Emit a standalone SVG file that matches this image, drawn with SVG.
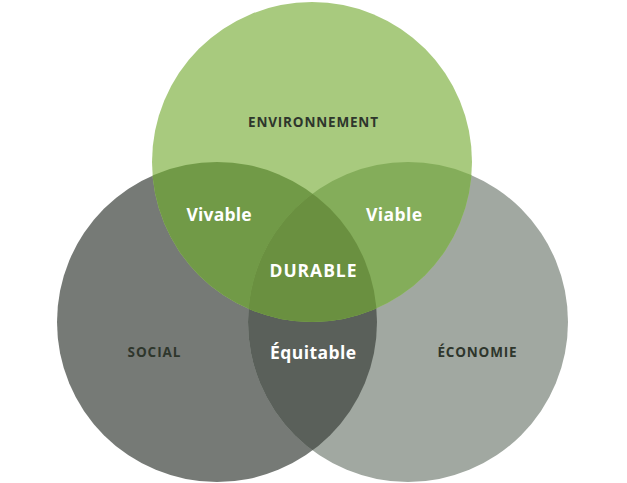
<svg xmlns="http://www.w3.org/2000/svg" width="627" height="483" viewBox="0 0 627 483">
<style>
.lbl{font-family:"Open Sans","DejaVu Sans",sans-serif;font-weight:700;text-anchor:middle}
.dark{fill:#2e362c;font-size:13.5px}
.light{fill:#ffffff;font-size:17.5px}
</style>
<defs>
<clipPath id="cEnv"><circle cx="312" cy="162" r="160"/></clipPath>
<clipPath id="cSoc"><circle cx="217" cy="322" r="160"/></clipPath>
<clipPath id="cEco"><circle cx="408" cy="322" r="160"/></clipPath>
</defs>
<rect width="627" height="483" fill="#ffffff"/>
<g id="social"><circle cx="217" cy="322" r="160" fill="#767a76"/></g>
<g id="economie"><circle cx="408" cy="322" r="160" fill="#a1a8a1"/></g>
<g id="environnement"><circle cx="312" cy="162" r="160" fill="#a8ca7e"/></g>
<g id="equitable-area" clip-path="url(#cSoc)"><circle cx="408" cy="322" r="160" fill="#5a605a"/></g>
<g id="vivable-area" clip-path="url(#cEnv)"><circle cx="217" cy="322" r="160" fill="#719a47"/></g>
<g id="viable-area" clip-path="url(#cEnv)"><circle cx="408" cy="322" r="160" fill="#84ad5a"/></g>
<g id="durable-area" clip-path="url(#cEnv)"><g clip-path="url(#cSoc)"><circle cx="408" cy="322" r="160" fill="#6a9040"/></g></g>
<g id="labels">
<text class="lbl dark" x="313" y="127" textLength="130" lengthAdjust="spacing">ENVIRONNEMENT</text>
<text class="lbl dark" x="154" y="357" textLength="53" lengthAdjust="spacing">SOCIAL</text>
<text class="lbl dark" x="477" y="357" textLength="79" lengthAdjust="spacing">ÉCONOMIE</text>
<text class="lbl light" x="219" y="221" textLength="65" lengthAdjust="spacing">Vivable</text>
<text class="lbl light" x="394" y="221" textLength="56" lengthAdjust="spacing">Viable</text>
<text class="lbl light" x="313" y="277" textLength="87" lengthAdjust="spacing">DURABLE</text>
<text class="lbl light" x="313" y="359" textLength="86" lengthAdjust="spacing">Équitable</text>
</g>
</svg>
